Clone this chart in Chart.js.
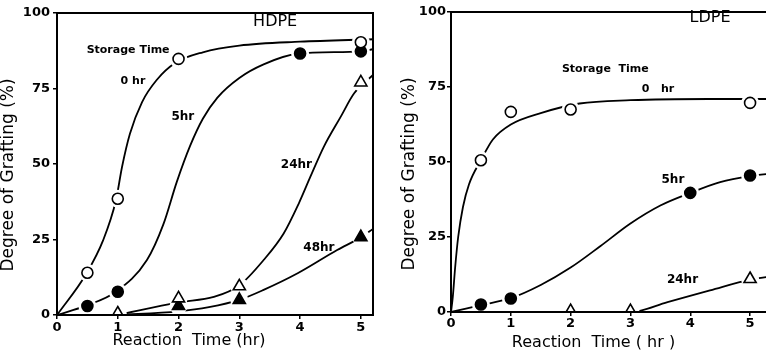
<!DOCTYPE html>
<html>
<head>
<meta charset="utf-8">
<script src="https://cdn.jsdelivr.net/npm/chart.js@4.4.1/dist/chart.umd.min.js"></script>
<style>
  html, body { margin: 0; padding: 0; background: #fff; overflow: hidden; }
  #wrap { position: relative; width: 766px; height: 357px; overflow: hidden; }
  #hdpe { position: absolute; left: 0; top: 0; }
  #ldpe { position: absolute; left: 383px; top: 0; }
</style>
</head>
<body>
<div id="wrap">
  <canvas id="hdpe" width="383" height="357"></canvas>
  <canvas id="ldpe" width="400" height="357"></canvas>
</div>
<script>
// ---- HDPE: measured points (reaction time hr, grafting %)
const hdpe0Time = [0.5, 1, 2, 5]
const hdpe0Graft = [14, 38.5, 84.8, 90.3]
const hdpe5Time = [0.5, 1, 4, 5]
const hdpe5Graft = [3, 7.7, 86.6, 87.3]
const hdpe24Time = [1, 2, 3, 5]
const hdpe24Graft = [0.5, 5.5, 9.5, 77]
const hdpe48Time = [2, 3, 5]
const hdpe48Graft = [3, 5, 25.8]

// ---- HDPE: drawn curves
const hdpe0CurveTime = [0, 0.48, 0.76, 0.97, 1.07, 1.2, 1.4, 1.64, 1.95, 2.4, 3.0, 4.0, 5.2]
const hdpe0CurveGraft = [0, 13.6, 24.8, 38, 49, 60, 70.5, 77.8, 83.5, 87, 89.2, 90.5, 91.3]
const hdpe5CurveTime = [0, 0.48, 0.97, 1.48, 1.75, 1.97, 2.19, 2.4, 2.64, 3.0, 3.4, 3.96, 5.0, 5.2]
const hdpe5CurveGraft = [0, 3.1, 7.7, 18.2, 30, 44, 56, 65, 72, 78.5, 83, 86.5, 87.3, 88]
const hdpe24CurveTime = [1, 2, 2.58, 3.0, 3.4, 3.73, 3.98, 4.17, 4.39, 4.67, 4.89, 5.2]
const hdpe24CurveGraft = [0, 4.2, 6, 9.8, 18.2, 27, 37, 45.8, 55.7, 65.7, 73.4, 79.5]
const hdpe48CurveTime = [1, 2, 2.5, 3.0, 3.4, 3.96, 4.61, 5.0, 5.2]
const hdpe48CurveGraft = [0, 1.2, 2.6, 5, 8.3, 13.8, 21.5, 25.7, 28.5]

// ---- LDPE: measured points
const ldpe0Time = [0.5, 1, 2, 5]
const ldpe0Graft = [50.6, 66.7, 67.5, 69.7]
const ldpe5Time = [0.5, 1, 4, 5]
const ldpe5Graft = [2.5, 4.5, 39.7, 45.5]
const ldpe24Time = [2, 3, 5]
const ldpe24Graft = [0.3, 0.3, 11]

// ---- LDPE: drawn curves
const ldpe0CurveTime = [0, 0.03, 0.07, 0.12, 0.2, 0.3, 0.5, 0.7, 1.0, 1.5, 2.15, 3.0, 4.3, 5.4]
const ldpe0CurveGraft = [0, 5, 15, 25, 35, 42.5, 50.6, 57.5, 62.5, 66.3, 69.5, 70.6, 71, 71]
const ldpe5CurveTime = [0, 0.5, 1.0, 1.5, 2.0, 2.5, 3.0, 3.5, 4.0, 4.5, 5.0, 5.4]
const ldpe5CurveGraft = [0, 2.3, 4.6, 9, 14.8, 22, 29.5, 35.5, 39.7, 43.3, 45.3, 46.2]
const ldpe24CurveTime = [2, 3, 3.62, 4.33, 5.0, 5.4]
const ldpe24CurveGraft = [0, 0, 3.3, 7.2, 10.8, 12]

const yTicks = [0, 25, 50, 75, 100]
const xTicks = [0, 1, 2, 3, 4, 5]

const FONT = "'DejaVu Sans', sans-serif"
Chart.defaults.font.family = FONT
Chart.defaults.color = "#000"

function pts(xs, ys) {
  return xs.map((x, i) => ({ x: x, y: ys[i] }))
}

// marker + a white halo underneath so the curve breaks around it
function markers(xs, ys, style, filled) {
  const data = pts(xs, ys)
  return [
    {
      data, showLine: false, pointStyle: style,
      pointRadius: style === "triangle" ? 7 : 5.5,
      pointBackgroundColor: filled ? "#000" : "#fff",
      pointBorderColor: "#000", pointBorderWidth: 1.6, order: 0
    },
    {
      data, showLine: false, pointStyle: "circle", pointRadius: 9,
      pointBackgroundColor: "#fff", pointBorderColor: "#fff", pointBorderWidth: 0, order: 1
    }
  ]
}

function curve(xs, ys) {
  return {
    data: pts(xs, ys), showLine: true, borderColor: "#000", borderWidth: 1.8,
    pointRadius: 0, cubicInterpolationMode: "monotone", fill: false, order: 2
  }
}

function textPlugin(notes, titles) {
  return {
    id: "texts",
    afterDatasetsDraw(chart) {
      const { ctx, chartArea: a } = chart
      ctx.save()
      ctx.strokeStyle = "#000"
      ctx.lineWidth = 2
      ctx.strokeRect(a.left, a.top, a.right - a.left, a.bottom - a.top)
      ctx.restore()
    },
    afterDraw(chart) {
      const ctx = chart.ctx
      const xs = chart.scales.x, ys = chart.scales.y
      ctx.save()
      ctx.fillStyle = "#000"
      ctx.textAlign = "center"
      ctx.textBaseline = "middle"
      notes.forEach(n => {
        ctx.font = n.font
        ctx.fillText(n.text, xs.getPixelForValue(n.x), ys.getPixelForValue(n.y))
      })
      ctx.font = "16px " + FONT
      ctx.fillText(titles.x, titles.xPos[0], titles.xPos[1])
      ctx.translate(titles.yPos[0], titles.yPos[1])
      ctx.rotate(-Math.PI / 2)
      ctx.font = "17px " + FONT
      ctx.fillText(titles.y, 0, 0)
      ctx.restore()
    }
  }
}

function panel(id, datasets, o, notes, titles) {
  return new Chart(document.getElementById(id), {
    type: "scatter",
    data: { datasets },
    options: {
      responsive: false,
      animation: false,
      devicePixelRatio: 1,
      layout: { padding: { top: o.top, right: o.right, left: 0, bottom: 0 } },
      plugins: { legend: { display: false }, tooltip: { enabled: false } },
      scales: {
        x: {
          type: "linear", min: 0, max: o.xMax,
          afterFit: s => { s.height = o.xAxisH },
          afterBuildTicks: s => { s.ticks = xTicks.map(v => ({ value: v })) },
          ticks: { font: { size: 13, weight: "bold" }, padding: o.xPad, color: "#000" },
          grid: { drawOnChartArea: false, tickLength: 4, color: "#000", lineWidth: 1.5 },
          border: { color: "#000", width: 2 }
        },
        y: {
          min: 0, max: 100,
          afterFit: s => { s.width = o.yAxisW },
          afterBuildTicks: s => { s.ticks = yTicks.map(v => ({ value: v })) },
          ticks: { font: { size: 13, weight: "bold" }, padding: o.yPad, color: "#000" },
          grid: { drawOnChartArea: false, tickLength: 4, color: "#000", lineWidth: 1.5 },
          border: { color: "#000", width: 2 }
        }
      }
    },
    plugins: [textPlugin(notes, titles)]
  })
}

const bold11 = "bold 11px " + FONT
const bold12 = "bold 12px " + FONT

panel("hdpe", [
  ...markers(hdpe0Time, hdpe0Graft, "circle", false),
  ...markers(hdpe5Time, hdpe5Graft, "circle", true),
  ...markers(hdpe24Time, hdpe24Graft, "triangle", false),
  ...markers(hdpe48Time, hdpe48Graft, "triangle", true),
  curve(hdpe0CurveTime, hdpe0CurveGraft),
  curve(hdpe5CurveTime, hdpe5CurveGraft),
  curve(hdpe24CurveTime, hdpe24CurveGraft),
  curve(hdpe48CurveTime, hdpe48CurveGraft)
], { top: 13, right: 10, xMax: 5.2, xAxisH: 42, yAxisW: 57, xPad: 1, yPad: 3 }, [
  { text: "HDPE", x: 3.59, y: 97, font: "16px " + FONT },
  { text: "Storage Time", x: 1.17, y: 87.7, font: bold11 },
  { text: "0 hr", x: 1.25, y: 77.5, font: bold11 },
  { text: "5hr", x: 2.07, y: 65.6, font: bold12 },
  { text: "24hr", x: 3.94, y: 49.7, font: bold12 },
  { text: "48hr", x: 4.31, y: 22.2, font: bold12 }
], { x: "Reaction  Time (hr)", xPos: [189, 341], y: "Degree of Grafting (%)", yPos: [9, 175] })

panel("ldpe", [
  ...markers(ldpe0Time, ldpe0Graft, "circle", false),
  ...markers(ldpe5Time, ldpe5Graft, "circle", true),
  ...markers(ldpe24Time, ldpe24Graft, "triangle", false),
  curve(ldpe0CurveTime, ldpe0CurveGraft),
  curve(ldpe5CurveTime, ldpe5CurveGraft),
  curve(ldpe24CurveTime, ldpe24CurveGraft)
], { top: 12, right: 1, xMax: 5.4, xAxisH: 45, yAxisW: 68, xPad: 0, yPad: 1 }, [
  { text: "LDPE", x: 4.33, y: 97.9, font: "16px " + FONT },
  { text: "Storage  Time", x: 2.58, y: 80.9, font: bold11 },
  { text: "0   hr", x: 3.46, y: 74.2, font: bold11 },
  { text: "5hr", x: 3.71, y: 43.9, font: bold12 },
  { text: "24hr", x: 3.87, y: 10.6, font: bold12 }
], { x: "Reaction  Time ( hr )", xPos: [210.5, 343], y: "Degree of Grafting (%)", yPos: [27, 174] })
</script>
</body>
</html>
